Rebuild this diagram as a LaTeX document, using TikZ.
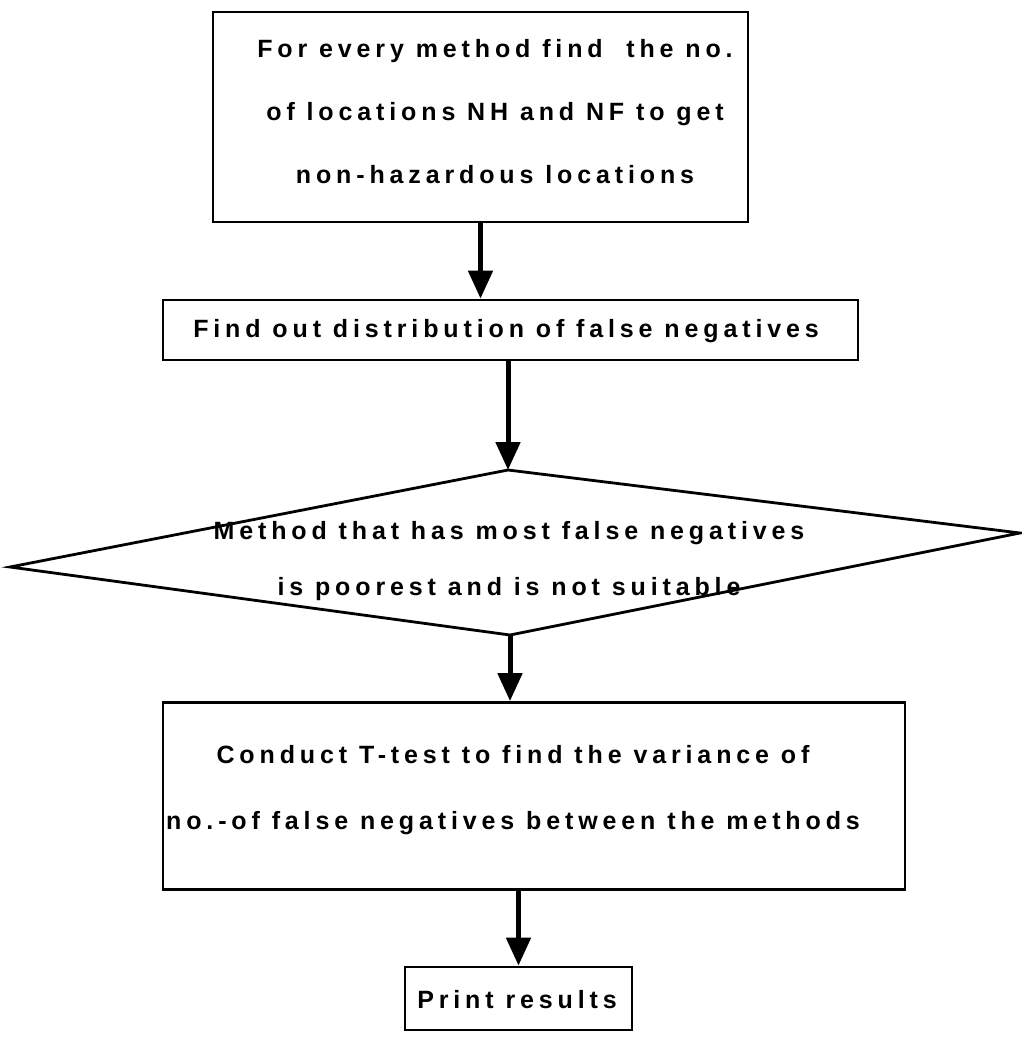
\documentclass[tikz,border=0pt]{standalone}
\usepackage{fontspec}
\setmainfont{Liberation Sans}[LetterSpace=19.5]
\usetikzlibrary{arrows.meta}
\begin{document}
\begin{tikzpicture}[x=1pt,y=-1pt,
  box/.style={draw, line width=2.8pt, inner sep=0pt},
  lbl/.style={font=\fontsize{25}{63}\selectfont\bfseries, inner sep=0pt},
  flow/.style={line width=5pt, -{Triangle[width=24pt,length=28pt]}}]
  \useasboundingbox (0,0) rectangle (1022,1042);

  % process boxes
  \node[box, minimum width=535pt, minimum height=210pt] (b1) at (480.5,117) {};
  \node[box, minimum width=695pt, minimum height=60pt]  (b2) at (510.5,330) {};
  \node[box, minimum width=742pt, minimum height=187pt] (b4) at (534,796) {};
  \node[box, minimum width=227pt, minimum height=63pt]  (b5) at (518.5,998.5) {};

  % decision diamond
  \coordinate (dl) at (10,567);
  \coordinate (dt) at (508,470);
  \coordinate (dr) at (1020,533);
  \coordinate (db) at (510,635);
  \draw[line width=2.8pt, line join=miter] (dl) -- (dt) -- (dr) -- (db) -- cycle;

  % texts
  \node[lbl, align=center] (t1) at (495,112)
    {For every method find\ \ the no.\\ of locations NH and NF to get\\ non-hazardous locations};
  \node[lbl] (t2) at (506,331) {Find out distribution of false negatives};
  \node[lbl, align=center, font=\fontsize{25}{56}\selectfont\bfseries] (t3) at (509,561)
    {Method that has most false negatives\\ is poorest and is not suitable};
  \node[lbl, align=center, font=\fontsize{25}{66}\selectfont\bfseries] (t4) at (513,790)
    {Conduct T-test to find the variance of\\ no.-of false negatives between the methods};
  \node[lbl] (t5) at (517,1000) {Print results};

  % connectors
  \draw[flow] (b1.south) -- (b1.south |- b2.north);
  \draw[flow] (dt |- b2.south) -- (dt);
  \draw[flow] (db) -- (db |- b4.north);
  \draw[flow] (b5.north |- b4.south) -- (b5.north);
\end{tikzpicture}
\end{document}
